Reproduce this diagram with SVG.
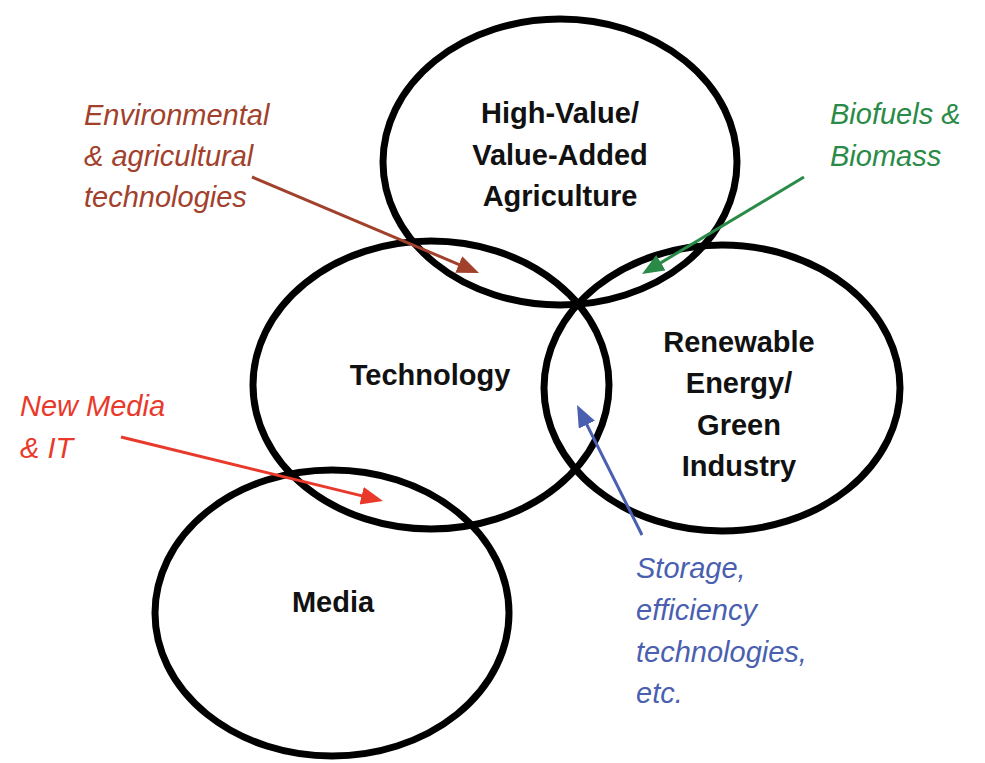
<svg xmlns="http://www.w3.org/2000/svg" width="985" height="763" viewBox="0 0 985 763">
<defs>
<style>
.ring{fill:none;stroke:#000;stroke-width:7}
.main{font-family:"Liberation Sans",Arial,sans-serif;font-weight:bold;font-size:29px;fill:#111;text-anchor:middle}
.note{font-family:"Liberation Sans",Arial,sans-serif;font-style:italic;font-size:29px}
.arr{fill:none;stroke-width:3}
</style>
<marker id="mBrown" markerUnits="userSpaceOnUse" markerWidth="24" markerHeight="20" refX="12" refY="9" orient="auto"><path d="M0,0 L22,9 L0,18 z" fill="#a1412c"/></marker>
<marker id="mGreen" markerUnits="userSpaceOnUse" markerWidth="24" markerHeight="20" refX="12" refY="9" orient="auto"><path d="M0,0 L22,9 L0,18 z" fill="#2a8a47"/></marker>
<marker id="mRed" markerUnits="userSpaceOnUse" markerWidth="24" markerHeight="20" refX="12" refY="9" orient="auto"><path d="M0,0 L22,9 L0,18 z" fill="#e8392b"/></marker>
<marker id="mBlue" markerUnits="userSpaceOnUse" markerWidth="24" markerHeight="20" refX="12" refY="9" orient="auto"><path d="M0,0 L22,9 L0,18 z" fill="#4a5fb0"/></marker>
</defs>
<rect width="985" height="763" fill="#fff"/>
<g id="agriculture">
<ellipse class="ring" cx="560" cy="162" rx="177" ry="143"/>
<text class="main" x="560" y="123">High-Value/</text>
<text class="main" x="560" y="165">Value-Added</text>
<text class="main" x="560" y="206">Agriculture</text>
</g>
<g id="technology">
<ellipse class="ring" cx="431" cy="385" rx="178" ry="144"/>
<text class="main" x="430" y="385">Technology</text>
</g>
<g id="renewable">
<ellipse class="ring" cx="722" cy="388" rx="178" ry="143"/>
<text class="main" x="739" y="352">Renewable</text>
<text class="main" x="739" y="393">Energy/</text>
<text class="main" x="739" y="435">Green</text>
<text class="main" x="739" y="476">Industry</text>
</g>
<g id="media">
<ellipse class="ring" cx="332" cy="613" rx="177" ry="143"/>
<text class="main" x="333" y="612">Media</text>
</g>
<g id="label-env" class="note" fill="#a1412c">
<text x="84" y="125">Environmental</text>
<text x="84" y="166">&amp; agricultural</text>
<text x="84" y="207">technologies</text>
</g>
<g id="label-bio" class="note" fill="#2a8a47">
<text x="830" y="124">Biofuels &amp;</text>
<text x="830" y="166">Biomass</text>
</g>
<g id="label-media" class="note" fill="#e8392b">
<text x="20" y="416">New Media</text>
<text x="20" y="458">&amp; IT</text>
</g>
<g id="label-storage" class="note" fill="#4a5fb0">
<text x="636" y="578">Storage,</text>
<text x="636" y="620">efficiency</text>
<text x="636" y="662">technologies,</text>
<text x="636" y="703">etc.</text>
</g>
<g id="connectors">
<line class="arr" x1="252" y1="177" x2="469.8" y2="269.1" stroke="#a1412c" marker-end="url(#mBrown)"/>
<line class="arr" x1="804" y1="177" x2="650.6" y2="268.9" stroke="#2a8a47" marker-end="url(#mGreen)"/>
<line class="arr" x1="121" y1="437" x2="373.3" y2="498.6" stroke="#e8392b" marker-end="url(#mRed)"/>
<line class="arr" x1="642" y1="535" x2="581.5" y2="414" stroke="#4a5fb0" marker-end="url(#mBlue)"/>
</g>
</svg>
